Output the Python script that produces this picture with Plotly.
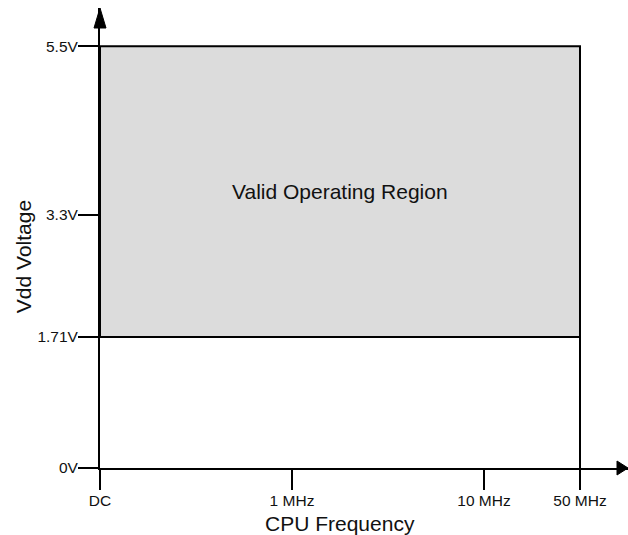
import plotly.graph_objects as go

# Frequency axis: schematic (non-linear) placement of the labelled points
freq_labels = ["DC", "1 MHz", "10 MHz", "50 MHz"]
freq_pos = [0, 2, 4, 5]

# Supply-voltage axis
volt_ticks = [0, 1.71, 3.3, 5.5]
volt_labels = ["0V", "1.71V", "3.3V", "5.5V"]

# Operating envelope
v_min = 1.71
v_max = 5.5
f_min = freq_pos[0]
f_max = freq_pos[-1]
region_label = "Valid Operating Region"

FONT = "Liberation Sans, Arial, sans-serif"
BLACK = "#000000"
TEXT = "#111111"

fig = go.Figure()

# Shaded valid region
fig.add_trace(go.Scatter(
    x=[f_min, f_max, f_max, f_min, f_min],
    y=[v_min, v_min, v_max, v_max, v_min],
    mode="lines", fill="toself", fillcolor="#dcdcdc",
    line=dict(color=BLACK, width=2), hoverinfo="skip", showlegend=False,
))
# Upper frequency limit carried down to the axis
fig.add_trace(go.Scatter(
    x=[f_max, f_max], y=[volt_ticks[0], v_min],
    mode="lines", line=dict(color=BLACK, width=2),
    hoverinfo="skip", showlegend=False,
))

fig.add_annotation(
    x=(f_min + f_max) / 2, y=(v_min + v_max) / 2, text=region_label,
    showarrow=False, font=dict(family=FONT, size=21, color=TEXT),
)

# Axis titles
fig.add_annotation(
    x=(f_min + f_max) / 2, y=0, xref="x", yref="paper", yshift=-55,
    xanchor="center", yanchor="middle",
    text="CPU Frequency", showarrow=False,
    font=dict(family=FONT, size=21, color=TEXT),
)
fig.add_annotation(
    x=0, y=(volt_ticks[0] + volt_ticks[-1]) / 2, xref="paper", yref="y",
    xshift=-77, xanchor="center", yanchor="middle",
    text="Vdd Voltage", textangle=-90, showarrow=False,
    font=dict(family=FONT, size=21, color=TEXT),
)

# Arrowheads at the ends of both axes
fig.add_shape(type="path", xref="paper", yref="paper",
              xsizemode="pixel", ysizemode="pixel", xanchor=0, yanchor=1,
              path="M 0,0 L -6,-20 L 6,-20 Z",
              fillcolor=BLACK, line=dict(color=BLACK, width=1))
fig.add_shape(type="path", xref="paper", yref="paper",
              xsizemode="pixel", ysizemode="pixel", xanchor=1, yanchor=0,
              path="M 0,0 L -11,7 L -11,-7 Z",
              fillcolor=BLACK, line=dict(color=BLACK, width=1))

fig.update_xaxes(
    range=[0, 5.5], tickvals=freq_pos, ticktext=freq_labels,
    showline=True, linecolor=BLACK, linewidth=2,
    ticks="outside", ticklen=20, tickwidth=2, tickcolor=BLACK,
    ticklabelstandoff=-3,
    showgrid=False, zeroline=False,
    tickfont=dict(family=FONT, size=15.5, color=TEXT),
)
fig.update_yaxes(
    range=[0, 6], tickvals=volt_ticks, ticktext=volt_labels,
    showline=True, linecolor=BLACK, linewidth=2,
    ticks="outside", ticklen=20, tickwidth=2, tickcolor=BLACK,
    ticklabelstandoff=-3,
    showgrid=False, zeroline=False,
    tickfont=dict(family=FONT, size=15.5, color=TEXT),
)

fig.update_layout(
    width=628, height=535, autosize=False,
    margin=dict(l=100, r=0, t=8, b=67),
    plot_bgcolor="white", paper_bgcolor="white",
    showlegend=False,
)

fig.write_html("out.html")
